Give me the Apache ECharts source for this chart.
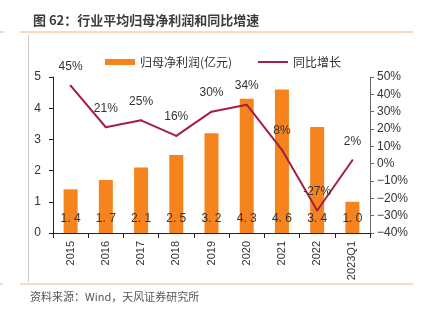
<!DOCTYPE html>
<html>
<head>
<meta charset="utf-8">
<script src="https://cdn.jsdelivr.net/npm/echarts@6/dist/echarts.min.js"></script>
<style>
html,body{margin:0;padding:0;background:#fff;}
#chart{width:423px;height:322px;}
</style>
</head>
<body>
<div id="chart"></div>
<script>
// 年度类目
const categories = ['2015', '2016', '2017', '2018', '2019', '2020', '2021', '2022', '2023Q1'];
// 归母净利润（亿元）
const profit = [1.4, 1.7, 2.1, 2.5, 3.2, 4.3, 4.6, 3.4, 1.0];
// 同比增长（%）
const growth = [45, 21, 25, 16, 30, 34, 8, -27, 2];
// 坐标轴刻度
const leftTicks = [0, 1, 2, 3, 4, 5];
const rightTicks = [-40, -30, -20, -10, 0, 10, 20, 30, 40, 50];

const ORANGE = '#F5841F';
const LINE = '#A31F44';
const RULE = '#F7B27A';
const TEXT = '#333';

const chart = echarts.init(document.getElementById('chart'));

const legendText = { fontFamily: 'Noto Sans CJK SC', fontSize: 12, color: TEXT };

chart.setOption({
  animation: false,
  backgroundColor: '#fff',
  title: {
    text: '图 62：行业平均归母净利润和同比增速',
    left: 28,
    top: 9,
    textStyle: { fontFamily: 'Noto Sans CJK SC', fontSize: 13, fontWeight: 'bold', color: '#3c3c3c' }
  },
  legend: [
    {
      top: 51,
      left: 100,
      itemWidth: 30,
      itemHeight: 6,
      itemGap: 6,
      textStyle: legendText,
      data: [{ name: '归母净利润(亿元)', icon: 'rect' }]
    },
    {
      top: 51,
      left: 253,
      itemWidth: 30,
      itemHeight: 2,
      textStyle: legendText,
      data: [{ name: '同比增长', icon: 'rect' }]
    }
  ],
  grid: { left: 53, right: 53, top: 77, bottom: 89 },
  xAxis: {
    type: 'category',
    data: categories,
    axisLine: { lineStyle: { color: '#222' } },
    axisTick: { show: true, alignWithLabel: false, length: 5, lineStyle: { color: '#222' } },
    axisLabel: { rotate: 90, interval: 0, color: TEXT, fontFamily: 'Liberation Sans', fontSize: 11, margin: 8 }
  },
  yAxis: [
    {
      type: 'value',
      min: leftTicks[0],
      max: leftTicks[leftTicks.length - 1],
      interval: 1,
      axisLine: { show: true, lineStyle: { color: '#222' } },
      axisTick: { show: true, length: 4, lineStyle: { color: '#222' } },
      axisLabel: { color: TEXT, fontFamily: 'Liberation Sans', fontSize: 12, margin: 12 },
      splitLine: { show: false }
    },
    {
      type: 'value',
      min: rightTicks[0],
      max: rightTicks[rightTicks.length - 1],
      interval: 10,
      axisLine: { show: true, lineStyle: { color: '#666' } },
      axisTick: { show: true, length: 4, lineStyle: { color: '#666' } },
      axisLabel: {
        color: TEXT, fontFamily: 'Liberation Sans', fontSize: 12, margin: 7,
        formatter: v => (v < 0 ? '\u2212' + Math.abs(v) : v) + '%'
      },
      splitLine: { show: false }
    }
  ],
  series: [
    {
      name: '归母净利润(亿元)',
      type: 'bar',
      data: profit,
      barWidth: 14,
      itemStyle: { color: ORANGE },
      label: {
        show: true,
        position: 'insideBottom',
        distance: 8,
        color: TEXT,
        fontFamily: 'Liberation Sans',
        fontSize: 12,
        formatter: p => p.value.toFixed(1).replace('.', '. ')
      },
      z: 2
    },
    {
      name: '同比增长',
      type: 'line',
      yAxisIndex: 1,
      data: growth,
      symbol: 'circle',
      symbolSize: 2,
      showSymbol: true,
      lineStyle: { color: LINE, width: 2 },
      itemStyle: { color: LINE },
      label: {
        show: true,
        position: 'top',
        distance: 12,
        color: TEXT,
        fontFamily: 'Liberation Sans',
        fontSize: 12,
        formatter: p => p.value + '%'
      },
      z: 3
    }
  ],
  graphic: [
    { type: 'line', shape: { x1: 20, y1: 32, x2: 413, y2: 32 }, style: { stroke: RULE, lineWidth: 1 } },
    { type: 'line', shape: { x1: 0, y1: 32, x2: 4, y2: 32 }, style: { stroke: RULE, lineWidth: 1 } },
    { type: 'line', shape: { x1: 28.5, y1: 35, x2: 28.5, y2: 282 }, style: { stroke: '#ccc', lineWidth: 1 } },
    { type: 'line', shape: { x1: 20, y1: 284, x2: 413, y2: 284 }, style: { stroke: RULE, lineWidth: 1 } },
    { type: 'line', shape: { x1: 0, y1: 284, x2: 3, y2: 284 }, style: { stroke: RULE, lineWidth: 1 } },
    {
      type: 'text', left: 30, top: 291,
      style: { text: '资料来源：Wind，天风证券研究所', fill: '#555', font: '11px "Noto Sans CJK SC"' }
    }
  ]
});
</script>
</body>
</html>
